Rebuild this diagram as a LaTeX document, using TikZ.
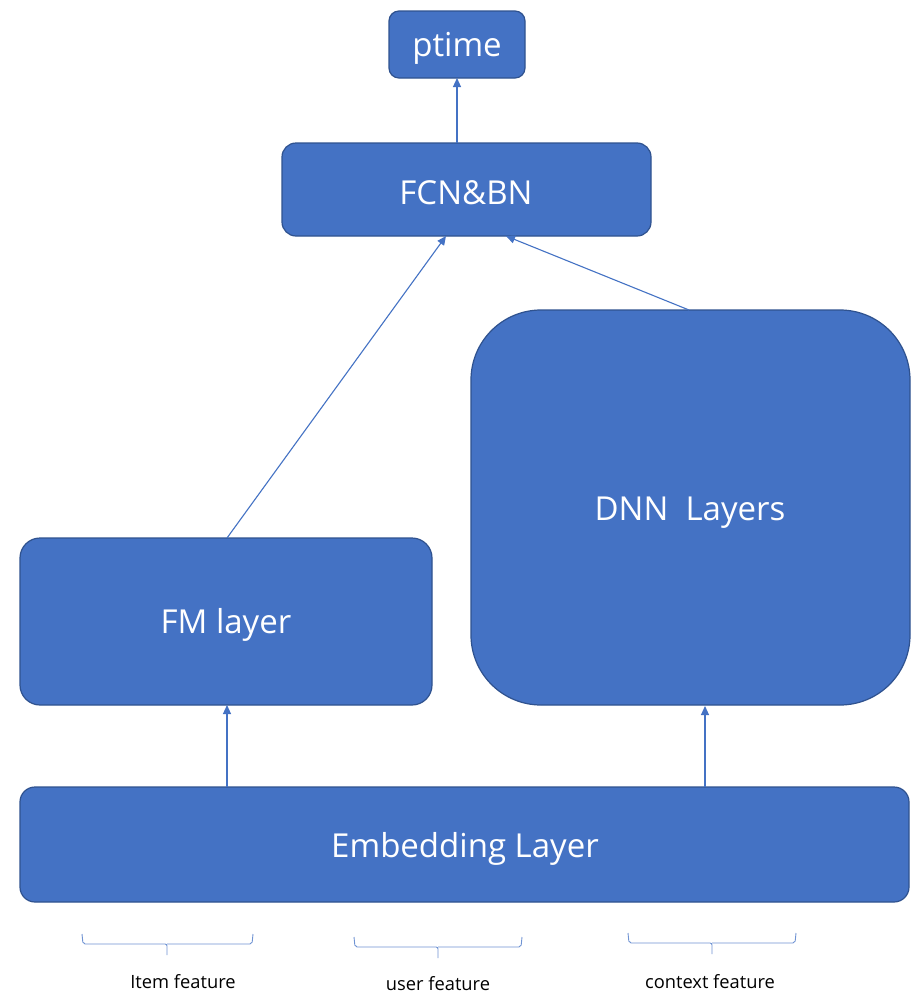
\documentclass[tikz,border=0pt]{standalone}
\usepackage{fontspec}
\setmainfont{Open Sans}
\usetikzlibrary{arrows.meta}
\definecolor{boxfill}{HTML}{4472C4}
\definecolor{boxline}{HTML}{2F528F}
\definecolor{bracec}{HTML}{6F93D3}
\begin{document}
\begin{tikzpicture}[x=1pt,y=-1pt,
  blk/.style={draw=boxline,line width=1.2pt,fill=boxfill,text=white,inner sep=0pt},
  btxt/.style={text=white,font=\fontsize{33}{38}\selectfont},
  conn/.style={draw=boxfill,line width=1.1pt,-{Triangle[length=9pt,width=8pt]}},
  brc/.style={draw=bracec,line width=0.9pt,rounded corners=2pt},
  lbl/.style={text=black,font=\fontsize{18.3}{21}\selectfont,inner sep=0pt}]
\useasboundingbox (0,0) rectangle (920,1004);
\fill[white] (0,0) rectangle (920,1004);
% boxes
\draw[blk,rounded corners=10pt] (389,11) rectangle (525,78);
\node[btxt] (ptime) at (457,48) {ptime};
\coordinate (ptimeB) at (457,78);
\draw[blk,rounded corners=14pt] (282,143) rectangle (651,236);
\node[btxt] (fcn) at (466,193) {FCN\&BN};
\coordinate (fcnT) at (457,143);
\coordinate (fcnA) at (446,236);
\coordinate (fcnB) at (506,236);
\draw[blk,rounded corners=70pt] (471,310) rectangle (910,705);
\node[btxt] (dnn) at (690,513) {DNN\ \ Layers};
\coordinate (dnnT) at (689,310);
\coordinate (dnnB) at (705,706);
\draw[blk,rounded corners=20pt] (20,538) rectangle (432,705);
\node[btxt] (fm) at (226,625) {FM layer};
\coordinate (fmT) at (227,538);
\coordinate (fmB) at (227,705);
\draw[blk,rounded corners=15pt] (20,787) rectangle (909,902);
\node[btxt] (emb) at (465,849) {Embedding Layer};
\coordinate (embA) at (227,787);
\coordinate (embB) at (705,787);
% connectors
\draw[conn] (fcnT) -- (ptimeB);
\draw[conn] (fmT) -- (fcnA);
\draw[conn] (dnnT) -- (fcnB);
\draw[conn] (embA) -- (fmB);
\draw[conn] (embB) -- (dnnB);
% braces
\draw[brc] (82,934) -- (83,944) -- (167,944) -- (167,955);
\draw[brc] (253,934) -- (252,944) -- (167,944);
\draw[brc] (354,937) -- (355,947) -- (438,947) -- (438,958);
\draw[brc] (522,937) -- (521,947) -- (438,947);
\draw[brc] (628,933) -- (629,943) -- (712,943) -- (712,954);
\draw[brc] (796,933) -- (795,943) -- (712,943);
% labels
\node[lbl] (l1) at (183,982) {Item feature};
\node[lbl] (l2) at (438,984) {user feature};
\node[lbl] (l3) at (710,982) {context feature};
\end{tikzpicture}
\end{document}
